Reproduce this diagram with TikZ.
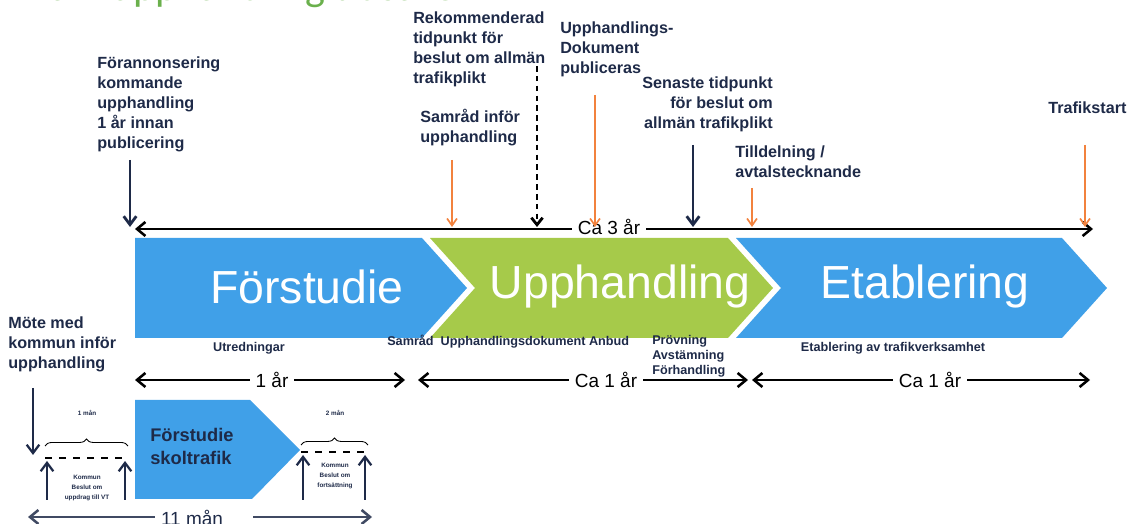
\documentclass[tikz,border=0pt]{standalone}
\usepackage{fontspec}
\setmainfont{Liberation Sans}
\newfontfamily\titleFont{Carlito}
\usepackage{tikz}
\usetikzlibrary{positioning,arrows.meta,decorations.pathreplacing}
\tikzstyle{pixelGrid} = [x = 0.025cm, y = -0.025cm]
\definecolor{phaseBlue}{RGB}{64,160,232}
\definecolor{phaseGreen}{RGB}{166,202,74}
\definecolor{eventOrange}{RGB}{242,130,62}
\definecolor{textNavy}{RGB}{30,42,72}
\definecolor{titleGreen}{RGB}{106,176,76}
\tikzstyle{phaseText} = [text=white, font=\fontsize{33}{36}\selectfont, inner sep=0]
\tikzstyle{eventText} = [text=textNavy, font=\bfseries\fontsize{11.5}{14.2}\selectfont, align=left, inner sep=0]
\tikzstyle{smallText} = [text=textNavy, font=\bfseries\fontsize{9}{10.7}\selectfont, align=left, inner sep=0]
\tikzstyle{tinyText} = [text=textNavy, font=\bfseries\fontsize{4.5}{6.8}\selectfont, align=center, inner sep=0]
\tikzstyle{spanText} = [text=black, font=\fontsize{13.5}{15}\selectfont, inner ysep=1pt, inner xsep=4pt]
\tikzstyle{darkArrow} = [draw=textNavy, line width=2pt, -{Straight Barb[length=6pt,width=9pt]}]
\tikzstyle{orangeArrow} = [draw=eventOrange, line width=1.2pt, -{Straight Barb[length=5pt,width=7pt]}]
\tikzstyle{dashArrow} = [draw=black, line width=2pt, dash pattern=on 4pt off 3pt, -{Straight Barb[length=5pt,width=8pt]}]
\tikzstyle{spanLine} = [draw=black, line width=1.8pt]
\tikzstyle{braceLine} = [draw=black, line width=0.6pt, decorate, decoration={brace, amplitude=5pt}]
\newcommand{\phaseShape}[4]{\fill [#1] (#2, 238) -- (#3, 238) -- (#3 + 45, 288) -- (#3, 338) -- (#2, 338) -- (#2 + #4, 288) -- cycle;}
\newcommand{\eventArrow}[4]{
  \coordinate (#1Top) at (#3, #4);
  \coordinate (#1End) at (#3, 227);
  \draw [#2] (#1Top) -- (#1End);
}
\newcommand{\spanArrow}[6]{
  \node [spanText] (#1) at (#3, #4) {#2};
  \coordinate (#1L) at (#5, #4);
  \coordinate (#1R) at (#6, #4);
  \draw [spanLine, {Straight Barb[length=6pt,width=10pt]}-] (#1L) -- (#1.west);
  \draw [spanLine, -{Straight Barb[length=6pt,width=10pt]}] (#1.east) -- (#1R);
}
\begin{document}
\begin{tikzpicture}[pixelGrid]
  \useasboundingbox (0,0) rectangle (1140,524);
  \clip (0,0) rectangle (1140,524);
  \node [anchor=base west, inner sep=0, text=titleGreen, font=\titleFont\fontsize{30}{30}\selectfont] (title) at (18,1) {Trafikupphandling tidsaxel};

  % phases
  \phaseShape{phaseBlue}{135}{422}{0}
  \phaseShape{phaseGreen}{430}{728}{45}
  \phaseShape{phaseBlue}{736}{1062}{45}
  \node [phaseText] (forstudie) at (307,287) {Förstudie};
  \node [phaseText] (upphandling) at (620,287) {Upphandling};
  \node [phaseText] (etablering) at (925,287) {Etablering};

  % main time line
  \node [spanText] (ca3) at (609,227) {Ca 3 år};
  \coordinate (mainL) at (135,229);
  \coordinate (mainR) at (1093,229);
  \draw [spanLine, {Straight Barb[length=6pt,width=10pt]}-] (mainL) -- (ca3.west |- mainL);
  \draw [spanLine, -{Straight Barb[length=6pt,width=10pt]}] (ca3.east |- mainR) -- (mainR);

  % events
  \node [eventText, anchor=north west] (foran) at (97,57) {Förannonsering\\kommande\\upphandling\\1 år innan\\publicering};
  \node [eventText, anchor=north west] (rekom) at (413,12) {Rekommenderad\\tidpunkt för\\beslut om allmän\\trafikplikt};
  \node [eventText, anchor=north west] (samrad) at (420,109) {Samråd inför\\upphandling};
  \node [eventText, anchor=north west] (dokument) at (560,22) {Upphandlings-\\Dokument\\publiceras};
  \node [eventText, anchor=north east, align=right] (senaste) at (773,77) {Senaste tidpunkt\\för beslut om\\allmän trafikplikt};
  \node [eventText, anchor=north west] (tilldelning) at (735,146) {Tilldelning /\\avtalstecknande};
  \node [eventText, anchor=north west] (trafikstart) at (1048,102) {Trafikstart};
  \eventArrow{foran}{darkArrow}{130}{160}
  \eventArrow{samrad}{orangeArrow}{452}{160}
  \eventArrow{rekom}{dashArrow}{537}{66}
  \eventArrow{dokument}{orangeArrow}{595}{95}
  \eventArrow{senaste}{darkArrow}{693}{145}
  \eventArrow{tilldelning}{orangeArrow}{752}{188}
  \eventArrow{trafikstart}{orangeArrow}{1085}{145}

  % labels under phases
  \node [smallText] (utredningar) at (249,348) {Utredningar};
  \node [smallText, anchor=west] (anbud) at (387,342) {Samråd\ \ Upphandlingsdokument Anbud};
  \node [smallText, anchor=north west] (provning) at (652,335) {Prövning\\Avstämning\\Förhandling};
  \node [smallText] (etabl) at (893,348) {Etablering av trafikverksamhet};
  \node [eventText, anchor=north west] (mote) at (8,317) {Möte med\\kommun inför\\upphandling};

  % durations
  \spanArrow{ettAr}{1 år}{272}{380}{135}{405}
  \spanArrow{upphAr}{Ca 1 år}{606}{380}{418}{748}
  \spanArrow{etablAr}{Ca 1 år}{930}{380}{752}{1090}

  % skoltrafik
  \fill [phaseBlue] (135,400) -- (250,400) -- (300,450) -- (252,499) -- (135,499) -- cycle;
  \node [eventText, font=\bfseries\fontsize{13}{16.3}\selectfont, anchor=north west] (skoltrafik) at (150,428) {Förstudie\\skoltrafik};
  \coordinate (moteTop) at (33,388);
  \coordinate (moteEnd) at (33,455);
  \draw [darkArrow, line width=1.6pt] (moteTop) -- (moteEnd);
  \coordinate (brace1L) at (45,446);
  \coordinate (brace1R) at (128,446);
  \draw [braceLine] (brace1L) -- (brace1R);
  \node [tinyText] (man1) at (87,413) {1 mån};
  \coordinate (brace2L) at (301,445);
  \coordinate (brace2R) at (368,445);
  \draw [braceLine] (brace2L) -- (brace2R);
  \node [tinyText] (man2) at (335,413) {2 mån};
  \draw [black, line width=1.2pt, dash pattern=on 5pt off 5pt] (brace1L) ++(0,12) coordinate (dash1L) -- ++(83,0) coordinate (dash1R);
  \draw [black, line width=1.2pt, dash pattern=on 5pt off 5pt] (brace2L) ++(0,7) coordinate (dash2L) -- ++(67,0) coordinate (dash2R);
  \foreach \xx/\yy in {47/461, 125/461, 303/455, 365/455} {
    \draw [darkArrow, line width=1.6pt] (\xx,500) -- (\xx,\yy);
  }
  \node [tinyText] (uppdrag) at (87,488) {Kommun\\Beslut om\\uppdrag till VT};
  \node [tinyText] (fortsattning) at (335,476) {Kommun\\Beslut om\\fortsättning};
  \node [spanText, text=textNavy] (elvaMan) at (192,518) {11 mån};
  \coordinate (elvaL) at (28,517);
  \coordinate (elvaR) at (372,517);
  \draw [spanLine, draw=textNavy!85, {Straight Barb[length=6pt,width=10pt]}-] (elvaL) -- (155,517);
  \draw [spanLine, draw=textNavy!85, -{Straight Barb[length=6pt,width=10pt]}] (253,517) -- (elvaR);
\end{tikzpicture}
\end{document}
